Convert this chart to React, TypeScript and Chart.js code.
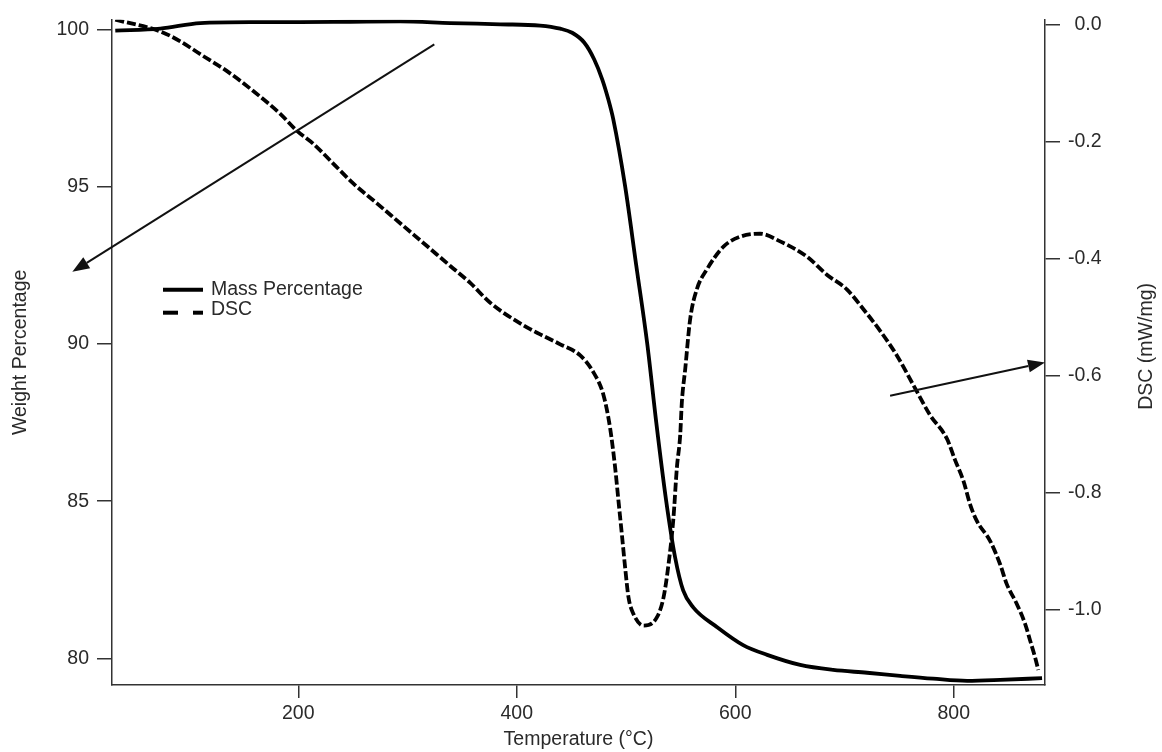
import React, { useEffect, useRef } from 'react';
import { Chart, registerables } from 'chart.js';

Chart.register(...registerables);

// ---- Data ----
const massTemp = [32.5, 73.7, 110.3, 156.1, 201.8, 247.6, 293.3, 339.1, 384.8, 421.4, 439.8, 450.7, 461.7, 470.9, 478.2, 483.7, 488.3, 499.2, 509.3, 519.4, 527.6, 536.8, 545.0, 552.3, 561.5, 583.4, 607.2, 629.2, 659.4, 689.6, 720.7, 750.9, 781.1, 812.2, 842.4, 880.8];
const massPct = [99.98, 100.04, 100.22, 100.25, 100.25, 100.26, 100.27, 100.22, 100.18, 100.14, 100.04, 99.91, 99.60, 99.06, 98.43, 97.80, 97.16, 95.02, 92.52, 90.02, 87.53, 85.00, 83.20, 82.16, 81.62, 80.99, 80.42, 80.11, 79.79, 79.63, 79.54, 79.44, 79.35, 79.28, 79.31, 79.37];

const dscTemp = [32.5, 73.7, 92.0, 110.3, 134.8, 158.8, 183.5, 198.8, 213.7, 232.0, 250.3, 272.0, 293.3, 317.8, 339.1, 357.4, 375.7, 409.3, 421.5, 439.8, 458.1, 470.2, 479.4, 485.5, 490.1, 493.1, 496.2, 499.2, 502.3, 506.8, 516.0, 528.2, 534.3, 538.9, 543.4, 546.5, 549.6, 551.1, 554.2, 558.7, 564.8, 574.0, 589.2, 604.5, 622.8, 641.1, 665.5, 683.8, 702.1, 717.3, 732.6, 747.9, 763.1, 778.3, 793.6, 801.2, 808.9, 815.0, 821.1, 833.2, 842.4, 848.5, 857.7, 865.3, 869.8, 874.4, 877.4];
const dscVal = [0.009, -0.011, -0.028, -0.050, -0.079, -0.113, -0.152, -0.181, -0.203, -0.237, -0.271, -0.305, -0.339, -0.378, -0.412, -0.441, -0.475, -0.517, -0.529, -0.546, -0.565, -0.594, -0.633, -0.690, -0.758, -0.814, -0.871, -0.928, -0.979, -1.007, -1.027, -1.013, -0.979, -0.922, -0.843, -0.758, -0.701, -0.645, -0.588, -0.503, -0.452, -0.418, -0.379, -0.362, -0.357, -0.370, -0.396, -0.427, -0.452, -0.486, -0.523, -0.565, -0.616, -0.667, -0.707, -0.744, -0.780, -0.820, -0.848, -0.882, -0.922, -0.956, -0.990, -1.024, -1.052, -1.081, -1.103];

const xTicks = [200, 400, 600, 800];
const massTicks = [80, 85, 90, 95, 100];
const dscTicks = [0, -0.2, -0.4, -0.6, -0.8, -1.0];

// Annotation arrows (data coordinates)
const arrowFromTemp = [324.5, 741.7];
const arrowFromVal = [99.54, -0.634];
const arrowToTemp = [-6.8, 883.5];
const arrowToVal = [92.3, -0.577];
const arrowAxis = ['yMass', 'yDsc'];

const seriesLabels = ['Mass Percentage', 'DSC'];

const FONT = 'Liberation Sans, Arial, sans-serif';
const FS = 19.5;
const TXT = '#2a2a2a';
const AXC = '#333333';

const arrowPlugin = {
  id: 'arrows',
  afterDatasetsDraw(chart: any) {
    const ctx = chart.ctx;
    const xs = chart.scales.x;
    ctx.save();
    for (let i = 0; i < arrowFromTemp.length; i++) {
      const ys = chart.scales[arrowAxis[i]];
      const x1 = xs.getPixelForValue(arrowFromTemp[i]);
      const y1 = ys.getPixelForValue(arrowFromVal[i]);
      const x2 = xs.getPixelForValue(arrowToTemp[i]);
      const y2 = ys.getPixelForValue(arrowToVal[i]);
      const ang = Math.atan2(y2 - y1, x2 - x1);
      const hl = 17;
      const hw = 6.5;
      const bx = x2 - hl * Math.cos(ang);
      const by = y2 - hl * Math.sin(ang);
      ctx.strokeStyle = '#111';
      ctx.lineWidth = 2;
      ctx.beginPath();
      ctx.moveTo(x1, y1);
      ctx.lineTo(bx, by);
      ctx.stroke();
      ctx.fillStyle = '#111';
      ctx.beginPath();
      ctx.moveTo(x2, y2);
      ctx.lineTo(bx + hw * Math.sin(ang), by - hw * Math.cos(ang));
      ctx.lineTo(bx - hw * Math.sin(ang), by + hw * Math.cos(ang));
      ctx.closePath();
      ctx.fill();
    }
    ctx.restore();
  },
};

const legendPlugin = {
  id: 'customLegend',
  afterDraw(chart: any) {
    const ctx = chart.ctx;
    const a = chart.chartArea;
    ctx.save();
    const x0 = a.left + 51;
    const x1 = a.left + 91;
    const rows = [a.top + 270, a.top + 292];
    chart.data.datasets.forEach((ds: any, i: number) => {
      ctx.strokeStyle = ds.borderColor;
      ctx.lineWidth = 4;
      ctx.setLineDash(i === 1 ? [15, 15] : []);
      ctx.beginPath();
      ctx.moveTo(x0, rows[i] + (i === 1 ? 1 : 0));
      ctx.lineTo(x1, rows[i] + (i === 1 ? 1 : 0));
      ctx.stroke();
      ctx.setLineDash([]);
      ctx.fillStyle = TXT;
      ctx.font = `${FS}px ${FONT}`;
      ctx.textAlign = 'left';
      ctx.textBaseline = 'middle';
      ctx.fillText(seriesLabels[i], a.left + 99, rows[i] - (i === 1 ? 2 : 0));
    });
    // right axis title, reading upward
    ctx.translate(chart.width - 15, (a.top + a.bottom) / 2 - 6);
    ctx.rotate(-Math.PI / 2);
    ctx.textAlign = 'center';
    ctx.textBaseline = 'middle';
    ctx.fillStyle = TXT;
    ctx.font = `${FS}px ${FONT}`;
    ctx.fillText('DSC (mW/mg)', 0, 0);
    ctx.restore();
  },
};

export default function App() {
  const ref = useRef<HTMLCanvasElement | null>(null);
  useEffect(() => {
    document.body.style.margin = '0';
    const canvas = ref.current;
    if (!canvas) return;
    const chart = new Chart(canvas, {
      type: 'line',
      data: {
        datasets: [
          {
            label: seriesLabels[0],
            data: massTemp.map((t, i) => ({ x: t, y: massPct[i] })),
            yAxisID: 'yMass',
            borderColor: '#000',
            borderWidth: 3.8,
            pointRadius: 0,
            cubicInterpolationMode: 'monotone',
          },
          {
            label: seriesLabels[1],
            data: dscTemp.map((t, i) => ({ x: t, y: dscVal[i] })),
            yAxisID: 'yDsc',
            borderColor: '#000',
            borderWidth: 3.8,
            borderDash: [9, 3],
            pointRadius: 0,
            cubicInterpolationMode: 'monotone',
          },
        ],
      },
      options: {
        responsive: false,
        animation: false,
        layout: { padding: { top: 15, left: 0, right: 0, bottom: 0 } },
        plugins: { legend: { display: false }, tooltip: { enabled: false } },
        scales: {
          x: {
            type: 'linear',
            min: 29.5,
            max: 883.5,
            afterFit: (s: any) => { s.height = 67; },
            afterBuildTicks: (s: any) => { s.ticks = xTicks.map((v) => ({ value: v })); },
            grid: { drawOnChartArea: false, drawTicks: true, tickLength: 13, color: AXC, lineWidth: 1.5 },
            border: { display: true, color: AXC, width: 1.5 },
            ticks: { color: TXT, font: { family: FONT, size: FS }, padding: 4, maxRotation: 0 },
            title: { display: true, text: 'Temperature (°C)', color: TXT, font: { family: FONT, size: FS }, padding: { top: 0, bottom: 1 } },
          },
          yMass: {
            type: 'linear',
            position: 'left',
            min: 79.15,
            max: 100.326,
            afterFit: (s: any) => { s.width = 112; },
            afterBuildTicks: (s: any) => { s.ticks = massTicks.map((v) => ({ value: v })); },
            grid: { drawOnChartArea: false, drawTicks: true, tickLength: 15, color: AXC, lineWidth: 1.5 },
            border: { display: true, color: AXC, width: 1.5 },
            ticks: { color: TXT, font: { family: FONT, size: FS }, padding: 8, callback: (v: any) => String(v) },
            title: { display: true, text: 'Weight Percentage', color: TXT, font: { family: FONT, size: FS }, padding: { top: 8.6, bottom: 0 } },
          },
          yDsc: {
            type: 'linear',
            position: 'right',
            min: -1.1285,
            max: 0.009,
            afterFit: (s: any) => { s.width = 117; },
            afterBuildTicks: (s: any) => { s.ticks = dscTicks.map((v) => ({ value: v })); },
            grid: { drawOnChartArea: false, drawTicks: true, tickLength: 15, color: AXC, lineWidth: 1.5 },
            border: { display: true, color: AXC, width: 1.5 },
            ticks: {
              color: TXT,
              font: { family: FONT, size: FS },
              padding: 8,
              crossAlign: 'near',
              callback: (v: any) => (Number(v) < 0 ? '' : '\u2004') + Number(v).toFixed(1),
            },
            title: { display: false },
          },
        },
      },
      plugins: [arrowPlugin, legendPlugin],
    } as any);
    return () => chart.destroy();
  }, []);
  return (
    <div style={{ width: 1162, height: 752 }}>
      <canvas ref={ref} width={1162} height={752} style={{ display: 'block' }} />
    </div>
  );
}
